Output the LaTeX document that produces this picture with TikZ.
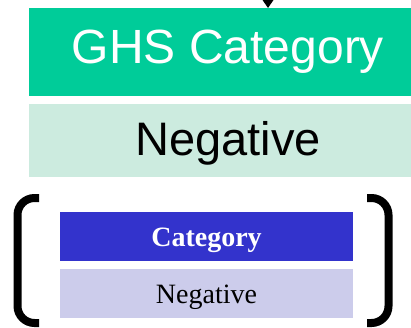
\documentclass[tikz,border=0pt]{standalone}
\usepackage{fontspec}
\setmainfont{Liberation Serif}
\setsansfont{Liberation Sans}
\usetikzlibrary{arrows.meta}
\definecolor{ghsgreen}{HTML}{00CC99}
\definecolor{ghslight}{HTML}{CCEBDF}
\definecolor{catblue}{HTML}{3333CC}
\definecolor{catlight}{HTML}{CCCCEB}
\tikzset{
  band/.style={rectangle, inner sep=0pt, outer sep=0pt, draw=none},
  bigsans/.style={font=\sffamily\fontsize{48}{48}\selectfont},
  midsans/.style={font=\sffamily\fontsize{47}{47}\selectfont},
  smallserif/.style={font=\fontsize{28}{28}\selectfont},
  smallbold/.style={font=\fontsize{28}{28}\selectfont\bfseries},
  bracketline/.style={line width=8pt, rounded corners=17pt},
  feed/.style={-{Triangle[width=12pt,length=9pt]}, line width=1.5pt}
}
\begin{document}
\begin{tikzpicture}[x=1pt,y=-1pt]
\useasboundingbox (0,0) rectangle (411,327);
\clip (0,0) rectangle (411,327);

% upper GHS block
\node[band, fill=ghsgreen, text=white, bigsans,
      minimum width=398pt, minimum height=88pt] (ghs) at (228,52) {GHS Category};
\node[band, fill=ghslight, text=black, midsans,
      minimum width=398pt, minimum height=73pt,
      text height=34pt, text depth=3.6pt] (ghsval) at (228,140.5) {Negative};

% incoming arrow
\coordinate (src) at (268,-40);
\draw[feed] (src) -- (ghs.north -| src);

% lower category block
\node[band, fill=catblue, text=white, smallbold,
      minimum width=293pt, minimum height=49pt,
      text height=20pt, text depth=0pt] (cat) at (206.5,236.5) {Category};
\node[band, fill=catlight, text=black, smallserif,
      minimum width=293pt, minimum height=49pt,
      text height=20pt, text depth=0pt] (catval) at (206.5,293.5) {Negative};

% enclosing brackets
\draw[bracketline] (39,198) -- (17.5,198) -- (17.5,323) -- (39,323);
\draw[bracketline] (367,198) -- (388.5,198) -- (388.5,323) -- (367,323);
\end{tikzpicture}
\end{document}
